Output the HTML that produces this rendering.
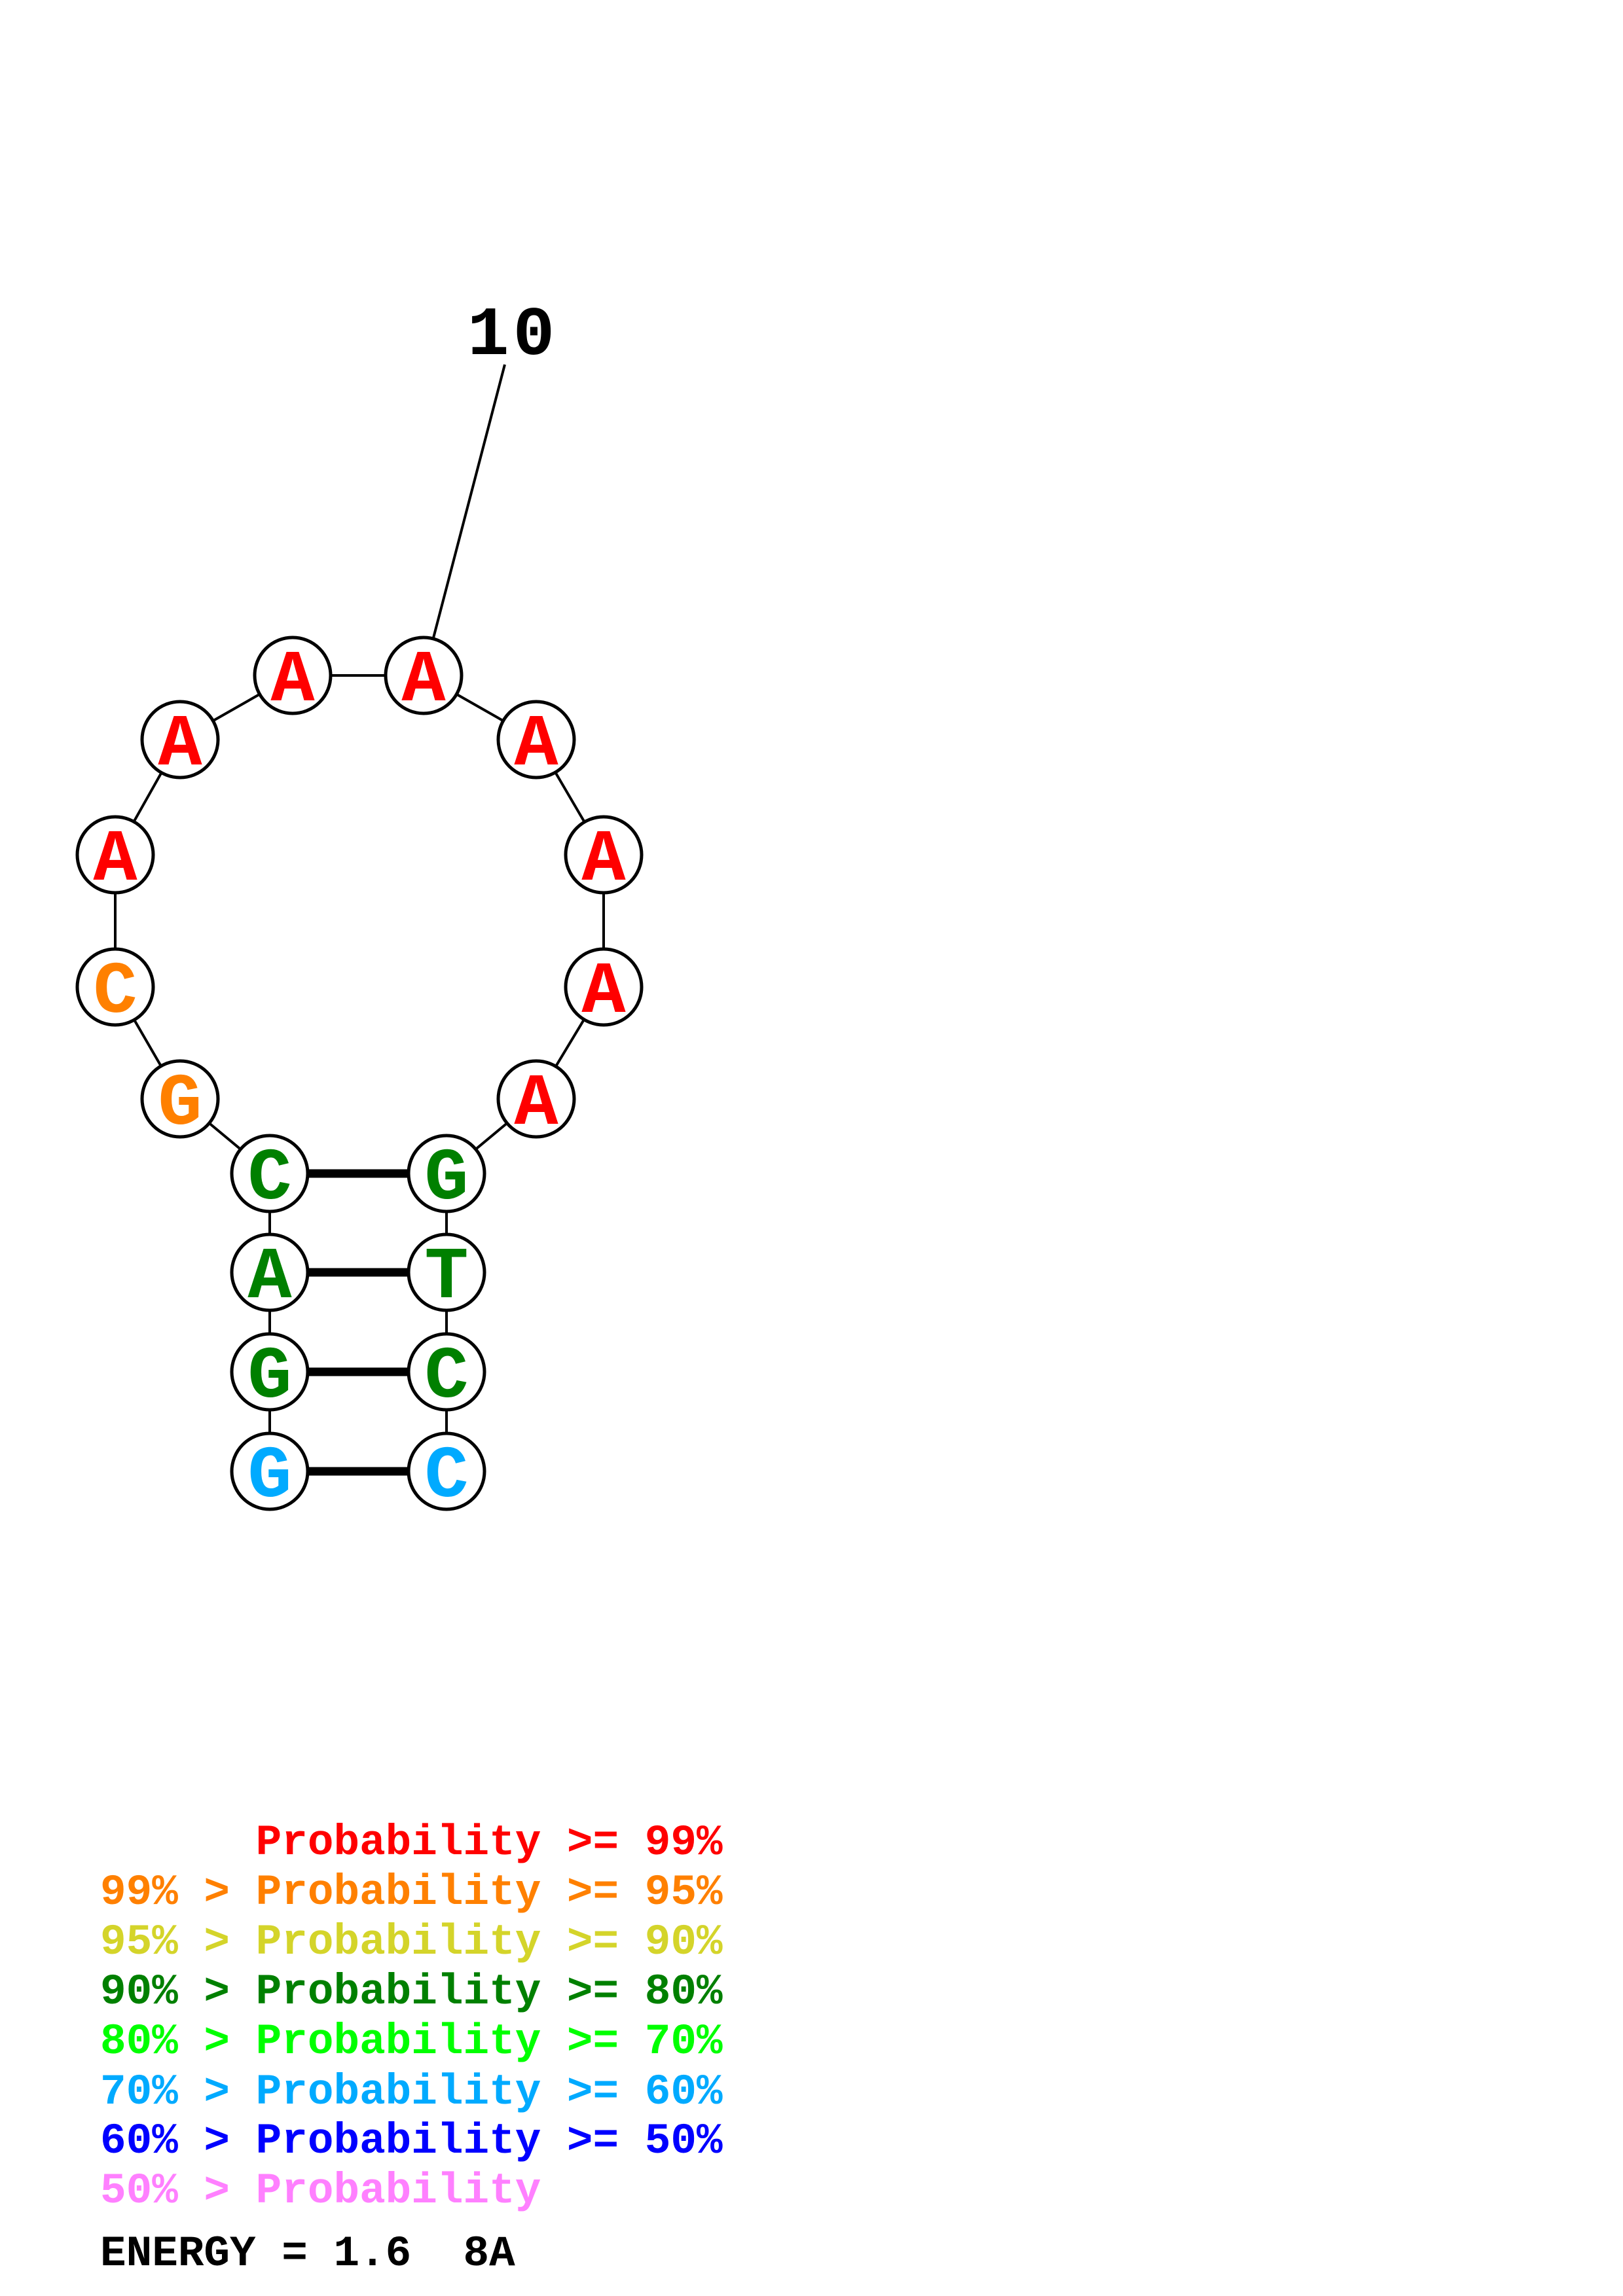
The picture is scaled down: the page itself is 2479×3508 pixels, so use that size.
<!DOCTYPE html>
<html><head><meta charset="utf-8"><style>
html,body{margin:0;padding:0;background:#fff;}
svg{display:block;}
text{font-family:"Courier New","Liberation Mono",monospace;font-weight:bold;white-space:pre;}
</style></head><body>
<svg width="2479" height="3508" viewBox="0 0 2479 3508" xmlns="http://www.w3.org/2000/svg">
<rect width="2479" height="3508" fill="#fff"/>
<g stroke="#000" stroke-width="4" fill="none">
<line x1="771" y1="557" x2="647" y2="1032"/>
<polyline points="412,2248 412,2096 412,1944 412,1793 275,1679 176,1508 176,1306 275,1130 447,1032 647,1032 819,1130 922,1306 922,1508 819,1679 682,1793 682,1944 682,2096 682,2248"/>
</g>
<g stroke="#000" stroke-width="13">
<line x1="412" y1="1793" x2="682" y2="1793"/>
<line x1="412" y1="1944" x2="682" y2="1944"/>
<line x1="412" y1="2096" x2="682" y2="2096"/>
<line x1="412" y1="2248" x2="682" y2="2248"/>
</g>
<g stroke="#000" stroke-width="5" fill="#fff">
<circle cx="447" cy="1032" r="58"/><circle cx="647" cy="1032" r="58"/>
<circle cx="819" cy="1130" r="58"/><circle cx="922" cy="1306" r="58"/>
<circle cx="922" cy="1508" r="58"/><circle cx="819" cy="1679" r="58"/>
<circle cx="682" cy="1793" r="58"/><circle cx="682" cy="1944" r="58"/>
<circle cx="682" cy="2096" r="58"/><circle cx="682" cy="2248" r="58"/>
<circle cx="412" cy="2248" r="58"/><circle cx="412" cy="2096" r="58"/>
<circle cx="412" cy="1944" r="58"/><circle cx="412" cy="1793" r="58"/>
<circle cx="275" cy="1679" r="58"/><circle cx="176" cy="1508" r="58"/>
<circle cx="176" cy="1306" r="58"/><circle cx="275" cy="1130" r="58"/>
</g>
<g font-size="112" text-anchor="middle">
<text x="447" y="1070" fill="#ff0000">A</text>
<text x="647" y="1070" fill="#ff0000">A</text>
<text x="819" y="1168" fill="#ff0000">A</text>
<text x="922" y="1344" fill="#ff0000">A</text>
<text x="922" y="1546" fill="#ff0000">A</text>
<text x="819" y="1717" fill="#ff0000">A</text>
<text x="682" y="1831" fill="#008000">G</text>
<text x="682" y="1982" fill="#008000">T</text>
<text x="682" y="2134" fill="#008000">C</text>
<text x="682" y="2286" fill="#00aaff">C</text>
<text x="412" y="2286" fill="#00aaff">G</text>
<text x="412" y="2134" fill="#008000">G</text>
<text x="412" y="1982" fill="#008000">A</text>
<text x="412" y="1831" fill="#008000">C</text>
<text x="275" y="1717" fill="#ff8000">G</text>
<text x="176" y="1546" fill="#ff8000">C</text>
<text x="176" y="1344" fill="#ff0000">A</text>
<text x="275" y="1168" fill="#ff0000">A</text>
</g>
<text x="714" y="541" fill="#000" font-size="106" letter-spacing="6">10</text>
<g font-size="66">
<text x="153" y="2833" fill="#ff0000">      Probability &gt;= 99%</text>
<text x="153" y="2909" fill="#ff8000">99% &gt; Probability &gt;= 95%</text>
<text x="153" y="2985" fill="#d4d42a">95% &gt; Probability &gt;= 90%</text>
<text x="153" y="3061" fill="#008000">90% &gt; Probability &gt;= 80%</text>
<text x="153" y="3137" fill="#00ff00">80% &gt; Probability &gt;= 70%</text>
<text x="153" y="3214" fill="#00aaff">70% &gt; Probability &gt;= 60%</text>
<text x="153" y="3289" fill="#0000ff">60% &gt; Probability &gt;= 50%</text>
<text x="153" y="3365" fill="#ff80ff">50% &gt; Probability</text>
<text x="153" y="3461" fill="#000">ENERGY = 1.6  8A</text>
</g>
</svg>
</body></html>
